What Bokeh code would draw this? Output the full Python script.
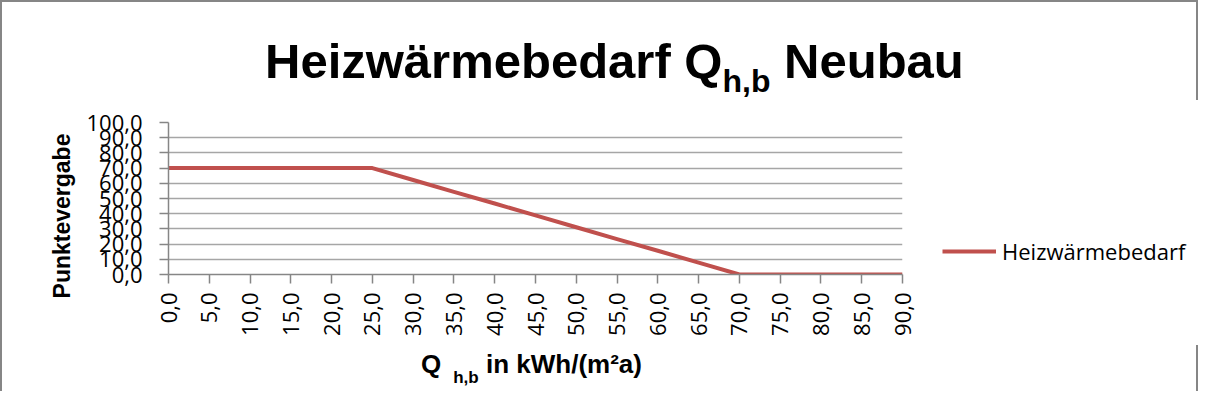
import math
from bokeh.plotting import figure
from bokeh.layouts import column, row
from bokeh.models import Range1d, FixedTicker, Legend, LegendItem, Div
from bokeh.embed import file_html
from bokeh.resources import INLINE

# ---- data ----
q_values = [0, 5, 10, 15, 20, 25, 30, 35, 40, 45, 50, 55, 60, 65, 70, 75, 80, 85, 90]
punkte = [70.0, 70.0, 70.0, 70.0, 70.0, 70.0, 62.2, 54.4, 46.7, 38.9, 31.1, 23.3, 15.6, 7.8,
          0.0, 0.0, 0.0, 0.0, 0.0]
x_ticks = [0, 5, 10, 15, 20, 25, 30, 35, 40, 45, 50, 55, 60, 65, 70, 75, 80, 85, 90]
y_ticks = [0, 10, 20, 30, 40, 50, 60, 70, 80, 90, 100]
series_name = "Heizwärmebedarf"
title_main = "Heizwärmebedarf Q"
title_sub = "h,b"
title_tail = " Neubau"
xlab_main = "Q"
xlab_sub = "h,b"
xlab_tail = " in kWh/(m²a)"
ylab = "Punktevergabe"

TICK_FONT = "Open Sans"
BOLD_FONT = "Liberation Sans"
W = 1198
GRAY = "#868686"
BORDER = f"2px solid {GRAY}"

# ---- title (HTML text with real subscript) ----
title_html = (
    f'<div style="padding:0 0 0 263px;margin:0;font-family:\'{BOLD_FONT}\';font-weight:bold;'
    f'font-size:49px;line-height:49px;white-space:nowrap;color:black;">'
    f'{title_main}<span style="font-size:32px;line-height:0;vertical-align:-14px;">{title_sub}</span>'
    f'{title_tail}</div>'
)
title_div = Div(text=title_html, width=W, height=100,
                styles={"padding-top": "35px", "margin": "0",
                        "border-top": BORDER, "border-left": BORDER, "border-right": BORDER})

# ---- y axis title (rotated HTML text) ----
ylab_html = (
    '<div style="position:relative;width:78px;height:245px;margin:0;padding:0;">'
    f'<div style="position:absolute;left:60px;top:116px;transform:translate(-50%,-50%) rotate(-90deg);'
    f'font-family:\'{BOLD_FONT}\';font-weight:bold;font-size:23px;line-height:23px;'
    f'white-space:nowrap;color:black;">{ylab}</div></div>'
)
ylab_div = Div(text=ylab_html, width=80, height=245,
               styles={"margin": "0", "border-left": BORDER})

# ---- main chart ----
p = figure(frame_width=732, frame_height=152, output_backend="svg", toolbar_location=None,
           x_range=Range1d(0, 90), y_range=Range1d(0, 100), title=None,
           min_border_left=88, min_border_right=298, min_border_top=22, min_border_bottom=71)
p.styles = {"border-right": BORDER, "background-color": "white"}
p.outline_line_color = None
p.background_fill_color = "white"
p.border_fill_color = "white"
p.border_fill_alpha = 0

r = p.line(q_values, punkte, line_color="#C0504D", line_width=4, line_join="round")

for ax in (p.xaxis[0], p.yaxis[0]):
    ax.axis_line_color = GRAY
    ax.axis_line_width = 1.5
    ax.major_tick_line_color = GRAY
    ax.major_tick_line_width = 1.5
    ax.major_tick_in = 0
    ax.major_tick_out = 9
    ax.minor_tick_line_color = None
    ax.major_label_text_font = TICK_FONT
    ax.major_label_text_font_size = "22px"
    ax.major_label_text_color = "black"

p.xaxis.ticker = FixedTicker(ticks=x_ticks)
p.xaxis.major_label_overrides = {t: f"{t:.1f}".replace(".", ",") for t in x_ticks}
p.xaxis.major_label_orientation = math.pi / 2
p.xaxis.major_label_standoff = 9

p.yaxis.ticker = FixedTicker(ticks=y_ticks)
p.yaxis.major_label_overrides = {t: f"{t:.1f}".replace(".", ",") for t in y_ticks}
p.yaxis.major_label_standoff = 17

p.xgrid.grid_line_color = None
p.ygrid.grid_line_color = "#a6a6a6"
p.ygrid.grid_line_width = 1.5

legend = Legend(items=[LegendItem(label=series_name, renderers=[r])], location=(40, 8),
                padding=0, margin=0, spacing=0, glyph_width=54, glyph_height=26,
                label_height=26, label_standoff=6, border_line_color=None,
                background_fill_alpha=0, label_text_font=TICK_FONT,
                label_text_font_size="22px", label_text_color="black")
p.add_layout(legend, "right")

# ---- x axis title (HTML text with real subscript) ----
xlab_html = (
    f'<div style="padding:0 0 0 419px;margin:0;font-family:\'{BOLD_FONT}\';font-weight:bold;'
    f'font-size:26px;line-height:26px;white-space:nowrap;color:black;">'
    f'{xlab_main}<span style="font-size:17px;line-height:0;vertical-align:-10px;margin-left:12px;">'
    f'{xlab_sub}</span>{xlab_tail}</div>'
)
xlab_div = Div(text=xlab_html, width=W, height=46,
               styles={"padding-top": "6px", "margin": "0",
                       "border-left": BORDER, "border-right": BORDER})

layout = column(title_div, row(ylab_div, p, spacing=0), xlab_div, spacing=0)

open("out.html", "w").write(file_html(layout, INLINE))
